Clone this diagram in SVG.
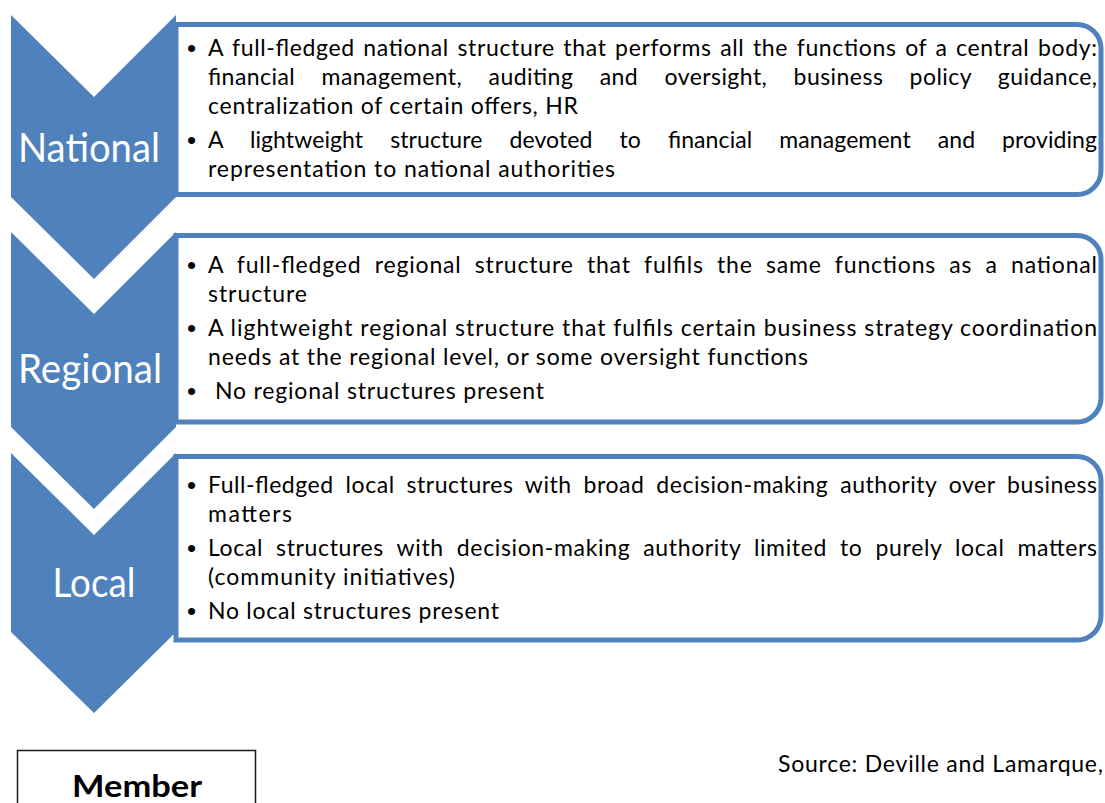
<svg xmlns="http://www.w3.org/2000/svg" width="1105" height="803" viewBox="0 0 1105 803">
<style>
.chev{fill:#4F81BD;}
.box{fill:#FFFFFF;stroke:#4F81BD;stroke-width:5;}
.lab{font-family:Lato,"Liberation Sans",sans-serif;font-size:40px;fill:#FFFFFF;text-anchor:middle;}
.t{font-family:Lato,"Liberation Sans",sans-serif;font-size:23px;fill:#000000;}
.b{font-family:"Liberation Sans",Arial,sans-serif;font-size:26px;fill:#000000;}
.mem{font-family:Lato,"Liberation Sans",sans-serif;font-size:31px;font-weight:bold;fill:#000000;text-anchor:middle;}
</style>
<rect width="1105" height="803" fill="#FFFFFF"/>

<g id="national">
<path class="box" d="M176,24.5 H1077 A24,24 0 0 1 1101,48.5 V170.5 A24,24 0 0 1 1077,194.5 H176 Z"/>
<polygon class="chev" points="11,15 94,97 176,15 176,197 94,279 11,197"/>
<text class="lab" x="89" y="162" textLength="142" lengthAdjust="spacingAndGlyphs">National</text>
<text class="b" x="187" y="57">•</text>
<text class="t" x="208" y="56" textLength="889" lengthAdjust="spacing" word-spacing="2">A full-fledged national structure that performs all the functions of a central body:</text>
<text class="t" x="208" y="85" textLength="889" lengthAdjust="spacing" word-spacing="20">financial management, auditing and oversight, business policy guidance,</text>
<text class="t" x="208" y="114" textLength="370" lengthAdjust="spacing">centralization of certain offers, HR</text>
<text class="b" x="187" y="149">•</text>
<text class="t" x="208" y="148" textLength="889" lengthAdjust="spacing" word-spacing="21">A lightweight structure devoted to financial management and providing</text>
<text class="t" x="208" y="177" textLength="407" lengthAdjust="spacing">representation to national authorities</text>
</g>

<g id="regional">
<path class="box" d="M176,235.5 H1077 A24,24 0 0 1 1101,259.5 V398 A24,24 0 0 1 1077,422 H176 Z"/>
<polygon class="chev" points="11,232 94,314 176,232 176,427 94,509 11,427"/>
<text class="lab" x="90" y="383" textLength="144" lengthAdjust="spacingAndGlyphs">Regional</text>
<text class="b" x="187" y="274">•</text>
<text class="t" x="208" y="273" textLength="889" lengthAdjust="spacing" word-spacing="6.5">A full-fledged regional structure that fulfils the same functions as a national</text>
<text class="t" x="208" y="302" textLength="99" lengthAdjust="spacing">structure</text>
<text class="b" x="187" y="337">•</text>
<text class="t" x="208" y="336" textLength="889" lengthAdjust="spacing">A lightweight regional structure that fulfils certain business strategy coordination</text>
<text class="t" x="208" y="365" textLength="600" lengthAdjust="spacing">needs at the regional level, or some oversight functions</text>
<text class="b" x="187" y="400">•</text>
<text class="t" x="215" y="399" textLength="329" lengthAdjust="spacing">No regional structures present</text>
</g>

<g id="local">
<path class="box" d="M176,456.5 H1077 A24,24 0 0 1 1101,480.5 V616 A24,24 0 0 1 1077,640 H176 Z"/>
<polygon class="chev" points="11,453 94,535 176,453 176,632 94,713 11,632"/>
<text class="lab" x="94" y="597" textLength="83" lengthAdjust="spacingAndGlyphs">Local</text>
<text class="b" x="187" y="494">•</text>
<text class="t" x="208" y="493" textLength="889" lengthAdjust="spacing" word-spacing="5.5">Full-fledged local structures with broad decision-making authority over business</text>
<text class="t" x="208" y="522" textLength="84" lengthAdjust="spacing">matters</text>
<text class="b" x="187" y="557">•</text>
<text class="t" x="208" y="556" textLength="889" lengthAdjust="spacing" word-spacing="6.5">Local structures with decision-making authority limited to purely local matters</text>
<text class="t" x="208" y="585" textLength="247" lengthAdjust="spacing">(community initiatives)</text>
<text class="b" x="187" y="620">•</text>
<text class="t" x="208" y="619" textLength="291" lengthAdjust="spacing">No local structures present</text>
</g>

<g id="member">
<rect x="17.5" y="750.5" width="238" height="70" fill="#FFFFFF" stroke="#1a1a1a" stroke-width="1.5"/>
<text class="mem" x="137" y="797" textLength="130" lengthAdjust="spacingAndGlyphs">Member</text>
</g>

<g id="source">
<text class="t" x="778" y="772" textLength="325" lengthAdjust="spacing">Source: Deville and Lamarque,</text>
</g>

<g id="connectors"></g>
</svg>
